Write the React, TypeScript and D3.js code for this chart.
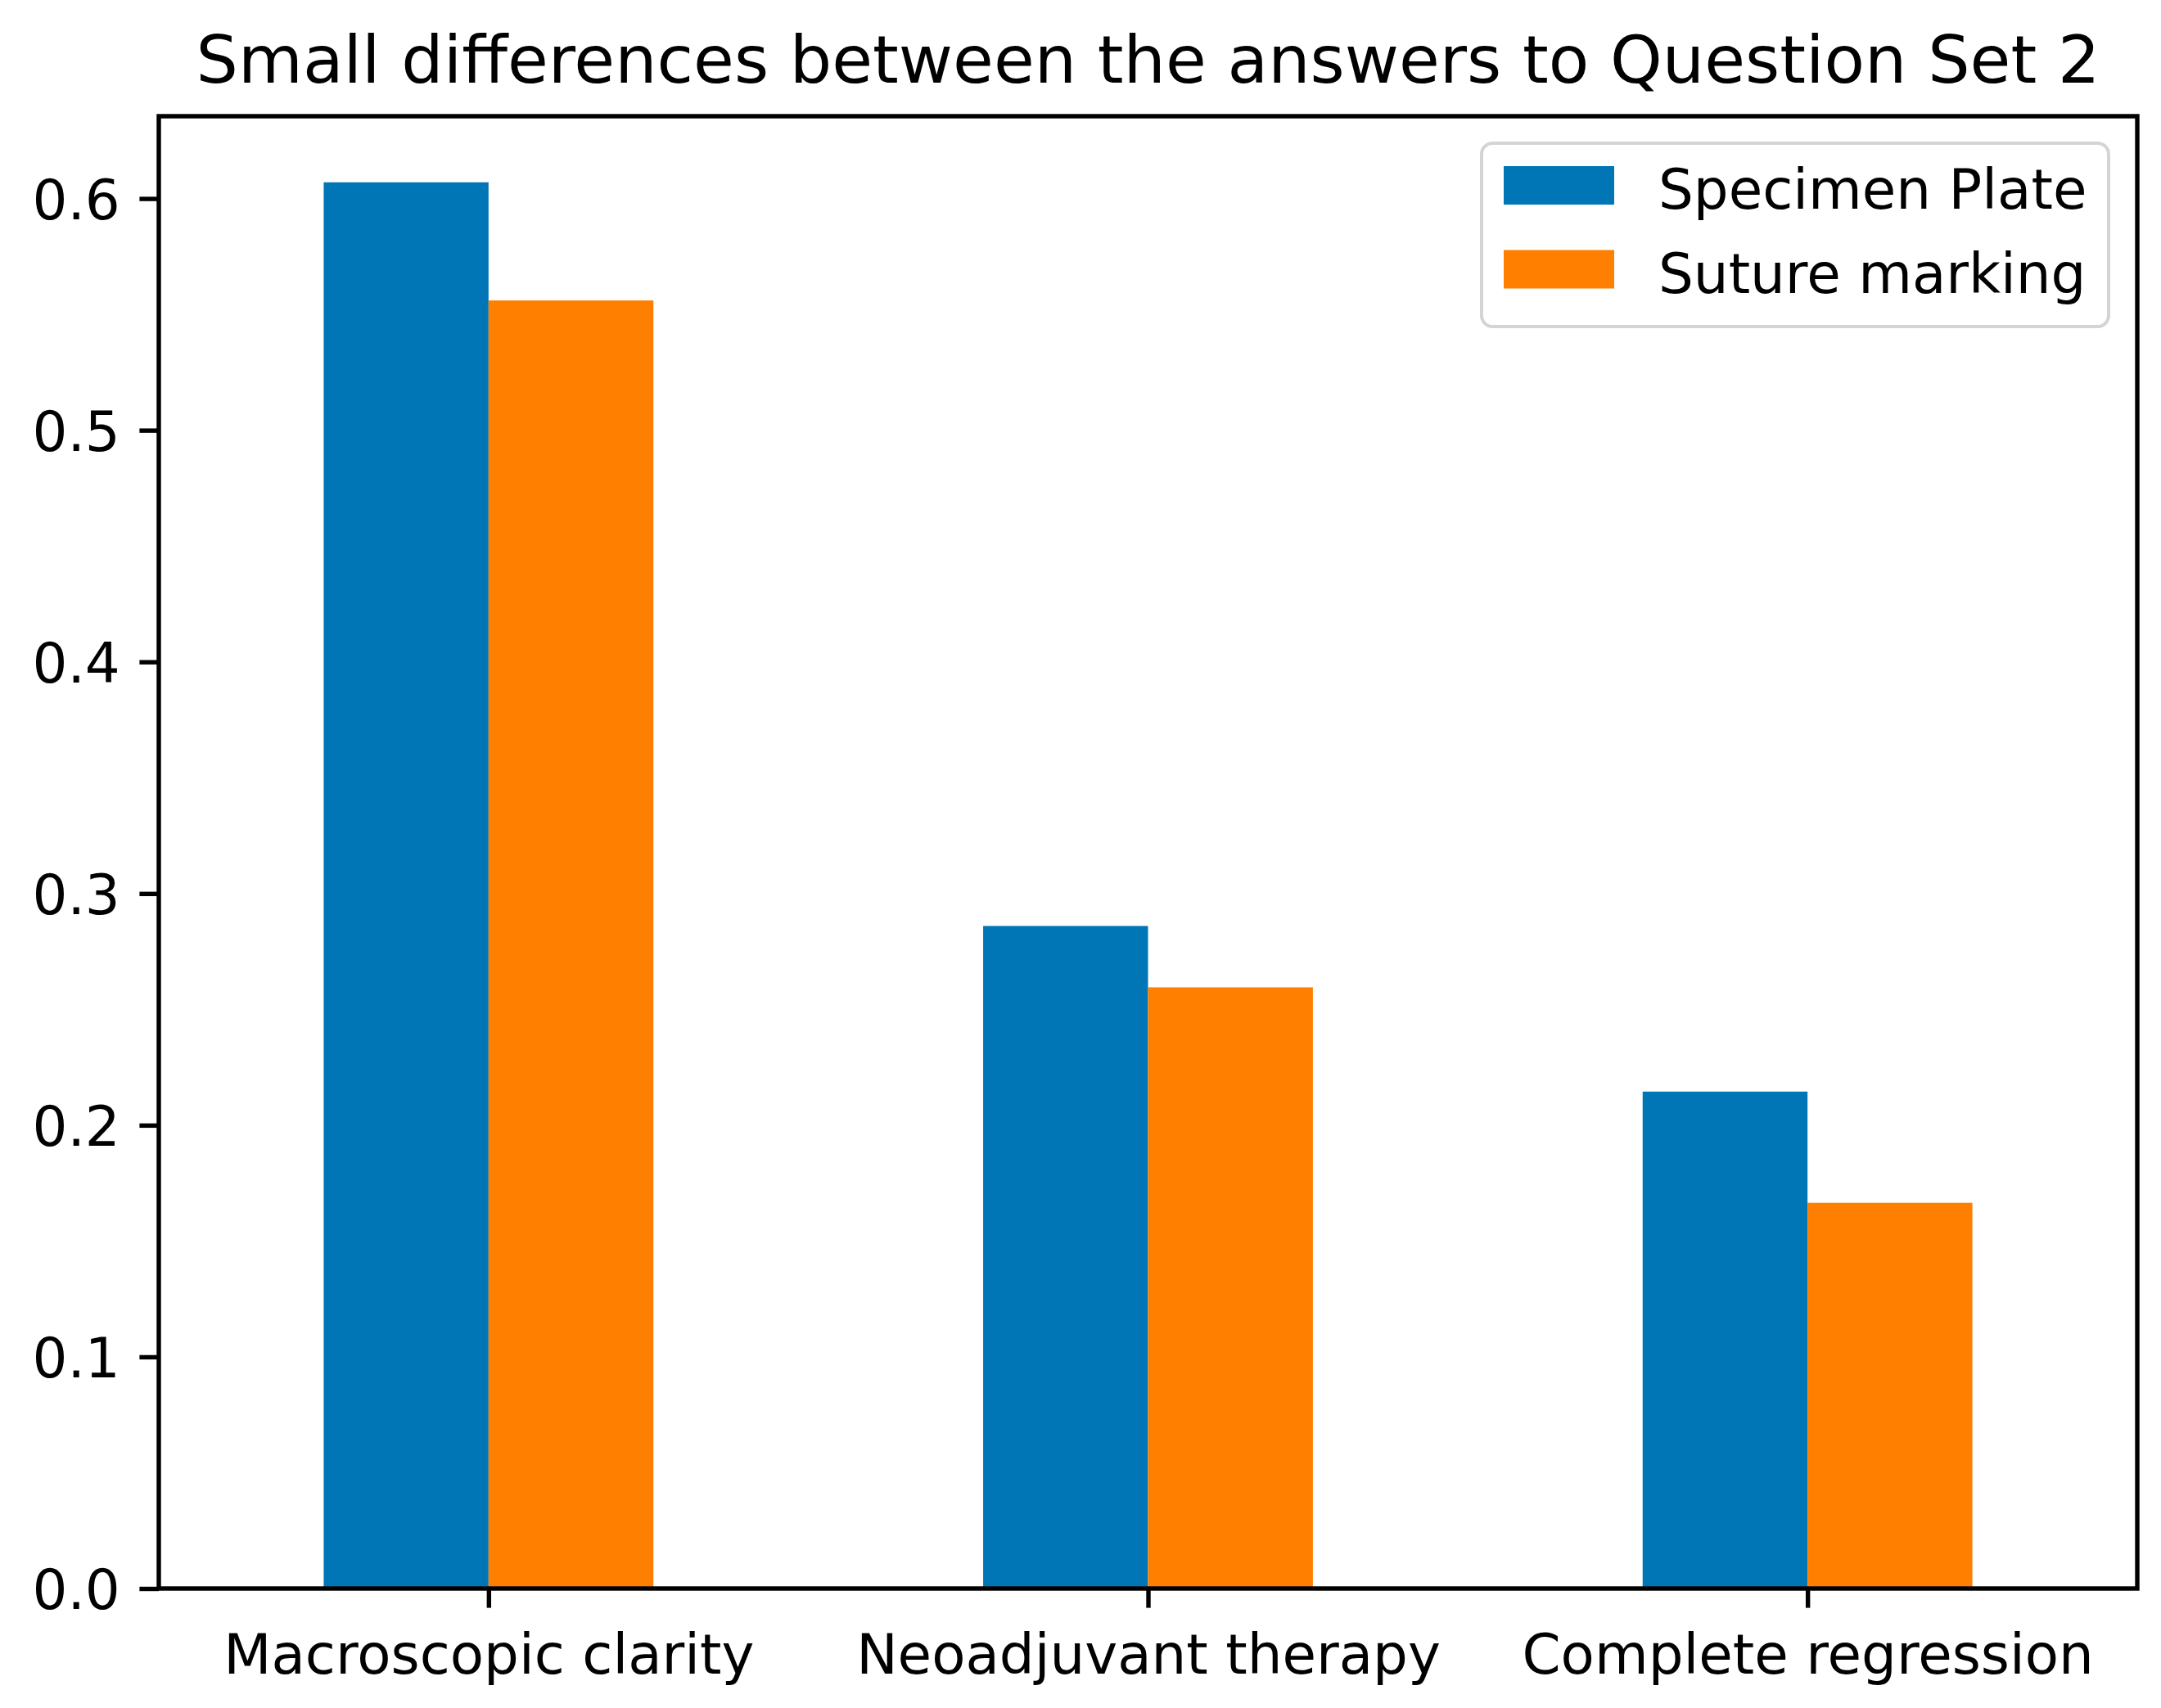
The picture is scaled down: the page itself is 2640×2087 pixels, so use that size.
import React, { useEffect, useRef } from "react";
import * as d3 from "d3";

// values
const categories = ["Macroscopic clarity", "Neoadjuvant therapy", "Complete regression"];
const seriesNames = ["Specimen Plate", "Suture marking"];
const specimenPlate = [0.607, 0.286, 0.2145];
const sutureMarking = [0.556, 0.2595, 0.1665];
const yTicks = [0.0, 0.1, 0.2, 0.3, 0.4, 0.5, 0.6];
const colors = ["#0076b6", "#ff8000"];
const title = "Small differences between the answers to Question Set 2";

const App = () => {
  const ref = useRef<SVGSVGElement>(null);

  useEffect(() => {
    document.body.style.margin = "0";

    const width = 2640;
    const height = 2087;
    const margin = { top: 142, right: 2640 - 2611, bottom: 2087 - 1941, left: 194 };
    const fs = 67.5; // 10pt
    const lw = 5.4; // 0.8pt
    const tickLen = 23.6;
    const font = "'DejaVu Sans', sans-serif";

    const svg = d3.select(ref.current);
    svg.selectAll("*").remove();

    svg
      .attr("viewBox", [0, 0, width, height].join(" "))
      .attr("width", width)
      .attr("height", height)
      .style("display", "block")
      .style("background", "#fff");

    const series = [specimenPlate, sutureMarking];
    const yTop = d3.max(specimenPlate.concat(sutureMarking)) * 1.047;

    // pandas style: category at integer positions, xlim [-0.5, n-0.5]
    const x = d3
      .scaleLinear()
      .domain([-0.5, categories.length - 0.5])
      .range([margin.left, width - margin.right]);

    const y = d3
      .scaleLinear()
      .domain([0, yTop])
      .range([height - margin.bottom, margin.top]);

    const barW = 0.25;

    // bars
    series.forEach((vals, si) => {
      svg
        .append("g")
        .attr("fill", colors[si])
        .selectAll("rect")
        .data(vals)
        .join("rect")
        .attr("x", (d, i) => x(i - barW + si * barW))
        .attr("y", (d) => y(d))
        .attr("width", x(barW) - x(0))
        .attr("height", (d) => y(0) - y(d));
    });

    // y axis
    const yAxis = svg
      .append("g")
      .attr("transform", `translate(${margin.left},0)`)
      .call(
        d3
          .axisLeft(y)
          .tickValues(yTicks)
          .tickSize(tickLen)
          .tickPadding(tickLen)
          .tickFormat(d3.format(".1f"))
      );
    yAxis.select(".domain").remove();
    yAxis.selectAll("line").attr("stroke", "#000").attr("stroke-width", lw);
    yAxis
      .selectAll("text")
      .attr("font-family", font)
      .attr("font-size", fs)
      .attr("fill", "#000")
      .attr("dy", "0.37em");

    // x axis
    const xAxis = svg
      .append("g")
      .attr("transform", `translate(0,${height - margin.bottom})`)
      .call(
        d3
          .axisBottom(x)
          .tickValues(d3.range(categories.length))
          .tickSize(tickLen)
          .tickPadding(tickLen)
          .tickFormat((d) => categories[d as number])
      );
    xAxis.select(".domain").remove();
    xAxis.selectAll("line").attr("stroke", "#000").attr("stroke-width", lw);
    xAxis
      .selectAll("text")
      .attr("font-family", font)
      .attr("font-size", fs)
      .attr("fill", "#000")
      .attr("y", 104)
      .attr("dy", 0);

    // frame
    svg
      .append("rect")
      .attr("x", margin.left)
      .attr("y", margin.top)
      .attr("width", width - margin.left - margin.right)
      .attr("height", height - margin.top - margin.bottom)
      .attr("fill", "none")
      .attr("stroke", "#000")
      .attr("stroke-width", lw)
      .attr("stroke-linejoin", "miter");

    // title
    svg
      .append("text")
      .attr("x", (margin.left + width - margin.right) / 2)
      .attr("y", 101)
      .attr("text-anchor", "middle")
      .attr("font-family", font)
      .attr("font-size", fs * 1.2)
      .attr("fill", "#000")
      .text(title);

    // legend
    const lgX = 1810;
    const lgY = 175;
    const lgW = 766;
    const lgH = 224;
    const lg = svg.append("g");
    lg.append("rect")
      .attr("x", lgX)
      .attr("y", lgY)
      .attr("width", lgW)
      .attr("height", lgH)
      .attr("rx", 13.5)
      .attr("fill", "#fff")
      .attr("fill-opacity", 0.8)
      .attr("stroke", "#d4d4d4")
      .attr("stroke-width", 4);

    seriesNames.forEach((name, i) => {
      const cy = lgY + 51.5 + i * 102.5;
      lg.append("rect")
        .attr("x", lgX + 27)
        .attr("y", cy - 23.5)
        .attr("width", 135)
        .attr("height", 47)
        .attr("fill", colors[i]);
      lg.append("text")
        .attr("x", lgX + 27 + 135 + 54)
        .attr("y", cy + 28.5)
        .attr("font-family", font)
        .attr("font-size", fs)
        .attr("fill", "#000")
        .text(name);
    });
  }, []);

  return (
    <div>
      <svg ref={ref}></svg>
    </div>
  );
};

export default App;
